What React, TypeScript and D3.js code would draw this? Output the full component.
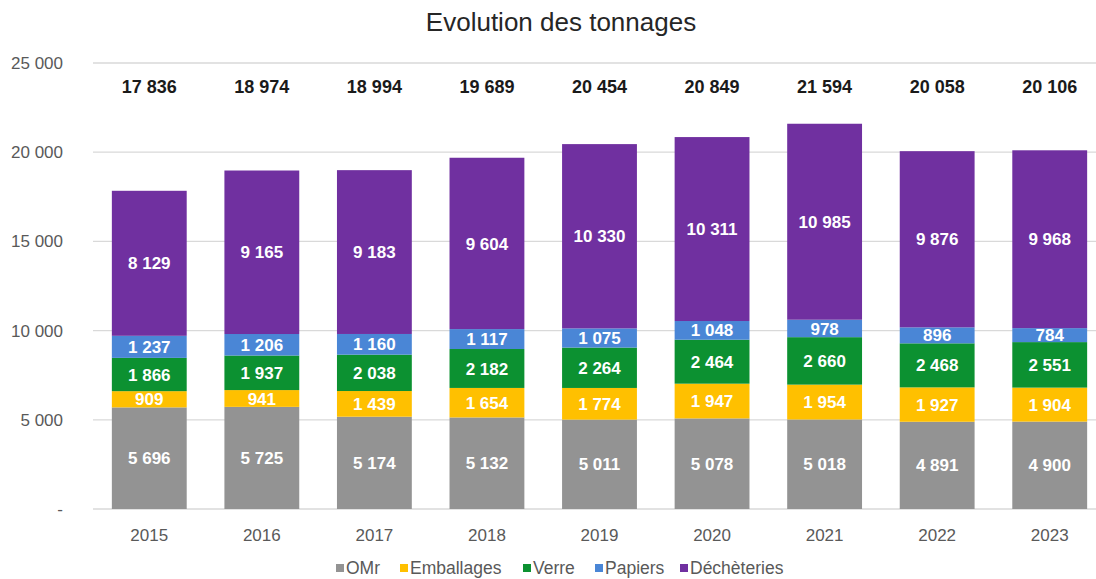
import React from 'react'
import * as d3 from 'd3'

const years = ['2015', '2016', '2017', '2018', '2019', '2020', '2021', '2022', '2023']
const omr = [5696, 5725, 5174, 5132, 5011, 5078, 5018, 4891, 4900]
const emballages = [909, 941, 1439, 1654, 1774, 1947, 1954, 1927, 1904]
const verre = [1866, 1937, 2038, 2182, 2264, 2464, 2660, 2468, 2551]
const papiers = [1237, 1206, 1160, 1117, 1075, 1048, 978, 896, 784]
const decheteries = [8129, 9165, 9183, 9604, 10330, 10311, 10985, 9876, 9968]
const totals = [17836, 18974, 18994, 19689, 20454, 20849, 21594, 20058, 20106]
const yTicks = [0, 5000, 10000, 15000, 20000, 25000]

const seriesNames = ['OMr', 'Emballages', 'Verre', 'Papiers', 'Déchèteries']
const seriesValues = [omr, emballages, verre, papiers, decheteries]
const colors = ['#939393', '#ffc000', '#0c9131', '#4a86d6', '#7030a0']

const W = 1096
const H = 579
const margin = {top: 63, right: -10, bottom: 70, left: 93}

const fr = d3.formatLocale({decimal: ',', thousands: '\u00a0', grouping: [3], currency: ['', '']})
const fmt = fr.format(',d')

export default function App() {
  const x = d3.scaleBand<string>()
    .domain(years)
    .range([margin.left, W - margin.right])
    .paddingInner(0.335)
    .paddingOuter(0.1675)

  const y = d3.scaleLinear()
    .domain([0, 25000])
    .range([H - margin.bottom, margin.top])

  const table = years.map((yr, i) => {
    const row: any = {year: yr}
    seriesNames.forEach((s, k) => { row[s] = seriesValues[k][i] })
    return row
  })
  const stacked = d3.stack().keys(seriesNames)(table)

  const font = 'Arial, "Liberation Sans", sans-serif'
  const totalY = y(23700)

  // legend layout
  const legendX = [336, 400, 523, 595, 680]

  return (
    <svg width={W} height={H} style={{position: 'absolute', left: 0, top: 0, background: '#fff'}}>
      <text x={561} y={31} textAnchor="middle" fontFamily={font} fontSize={26} fill="#262626">
        Evolution des tonnages
      </text>

      {yTicks.map(t => (
        <g key={t}>
          <line x1={margin.left} x2={W} y1={y(t)} y2={y(t)} stroke="#d9d9d9" strokeWidth={1.3} />
          <text x={63} y={y(t)} dy="0.35em" textAnchor="end" fontFamily={font} fontSize={17} fill="#595959">
            {t === 0 ? '-' : fmt(t)}
          </text>
        </g>
      ))}

      {stacked.map((layer, k) => (
        <g key={layer.key} fill={colors[k]}>
          {layer.map((d, i) => (
            <rect key={i} x={x(years[i])} width={x.bandwidth()} y={y(d[1])} height={y(d[0]) - y(d[1])} />
          ))}
        </g>
      ))}

      {stacked.map((layer, k) => (
        <g key={'l' + layer.key}>
          {layer.map((d, i) => (
            <text key={i} x={(x(years[i]) as number) + x.bandwidth() / 2} y={(y(d[0]) + y(d[1])) / 2}
              dy="0.36em" textAnchor="middle" fontFamily={font} fontSize={17} fontWeight="bold" fill="#fff">
              {fmt(seriesValues[k][i])}
            </text>
          ))}
        </g>
      ))}

      {totals.map((t, i) => (
        <text key={i} x={(x(years[i]) as number) + x.bandwidth() / 2} y={totalY} dy="0.36em"
          textAnchor="middle" fontFamily={font} fontSize={18} fontWeight="bold" fill="#1a1a1a">
          {fmt(t)}
        </text>
      ))}

      {years.map(yr => (
        <text key={yr} x={(x(yr) as number) + x.bandwidth() / 2} y={y(0) + 26} dy="0.35em"
          textAnchor="middle" fontFamily={font} fontSize={17} fill="#595959">
          {yr}
        </text>
      ))}

      {seriesNames.map((s, k) => (
        <g key={s} transform={`translate(${legendX[k]},568)`}>
          <rect x={0} y={-4} width={8} height={8} fill={colors[k]} />
          <text x={10} y={0} dy="0.35em" fontFamily={font} fontSize={17.5} fill="#595959">{s}</text>
        </g>
      ))}
    </svg>
  )
}
